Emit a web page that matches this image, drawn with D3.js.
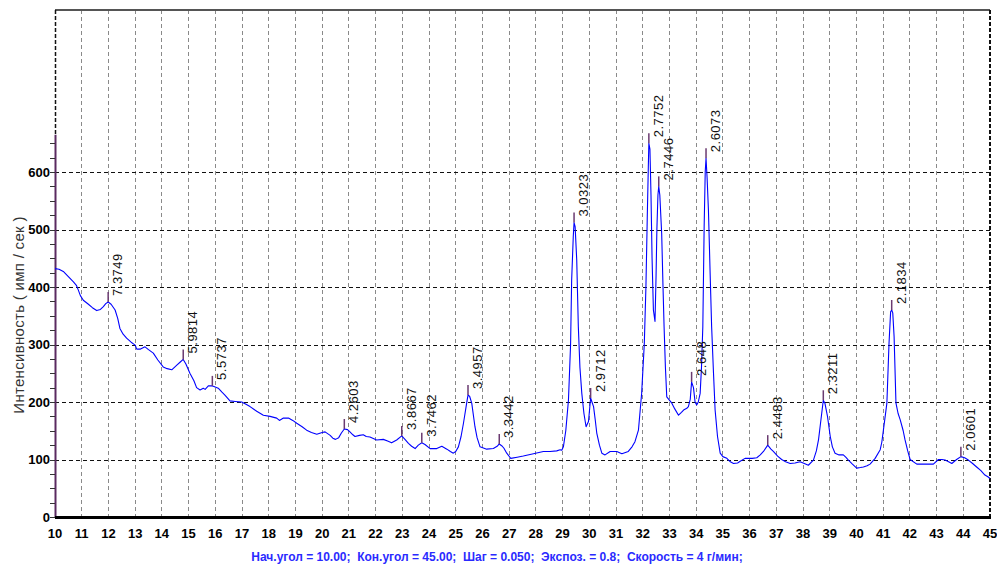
<!DOCTYPE html>
<html><head><meta charset="utf-8">
<script src="https://cdn.jsdelivr.net/npm/d3@7"></script>
<style>
html,body{margin:0;padding:0;background:#fff;}
svg{display:block;font-family:Arial,"Liberation Sans",sans-serif;}
</style></head>
<body><svg id="chart" width="997" height="565"></svg>
<script>
// 2θ (degrees) of the measured profile
const twoTheta = [10.00,10.15,10.31,10.50,10.69,10.80,10.87,10.95,11.06,11.25,11.40,11.56,11.70,11.81,11.90,11.99,12.10,12.25,12.35,12.43,12.55,12.68,12.85,13.00,13.06,13.20,13.37,13.50,13.68,13.85,14.05,14.20,14.37,14.56,14.70,14.80,14.90,15.05,15.20,15.30,15.43,15.55,15.62,15.74,15.89,15.95,16.11,16.25,16.36,16.55,16.75,16.99,17.15,17.30,17.55,17.80,18.05,18.30,18.40,18.55,18.74,18.90,19.05,19.25,19.42,19.60,19.80,20.00,20.11,20.30,20.40,20.50,20.62,20.72,20.83,20.95,21.04,21.15,21.23,21.40,21.54,21.65,21.79,22.04,22.29,22.45,22.60,22.79,22.98,23.10,23.23,23.35,23.48,23.60,23.73,23.85,24.04,24.29,24.48,24.67,24.80,24.91,25.00,25.10,25.20,25.29,25.41,25.46,25.52,25.60,25.72,25.80,25.91,26.16,26.41,26.55,26.63,26.72,26.80,26.91,27.06,27.30,27.53,27.91,28.28,28.53,28.78,28.91,28.97,29.03,29.12,29.22,29.30,29.34,29.40,29.43,29.47,29.53,29.59,29.65,29.72,29.80,29.88,29.97,30.05,30.10,30.16,30.22,30.28,30.38,30.47,30.59,30.78,31.03,31.22,31.46,31.60,31.71,31.84,31.96,32.06,32.12,32.17,32.21,32.23,32.27,32.31,32.35,32.40,32.46,32.50,32.53,32.57,32.60,32.64,32.71,32.76,32.80,32.85,32.90,33.09,33.20,33.34,33.45,33.53,33.65,33.71,33.78,33.83,33.90,33.96,34.02,34.08,34.15,34.20,34.25,34.30,34.34,34.37,34.41,34.46,34.52,34.58,34.65,34.71,34.80,34.90,35.00,35.15,35.28,35.40,35.55,35.65,35.83,35.95,36.10,36.27,36.40,36.52,36.68,36.80,36.89,37.05,37.20,37.35,37.52,37.70,37.89,38.05,38.20,38.39,38.50,38.58,38.70,38.76,38.82,38.92,39.02,39.10,39.20,39.35,39.51,39.60,39.70,39.85,40.01,40.15,40.26,40.40,40.51,40.70,40.89,40.95,41.01,41.14,41.22,41.28,41.32,41.36,41.41,41.48,41.56,41.64,41.75,41.82,41.92,42.01,42.26,42.60,42.88,43.07,43.20,43.32,43.45,43.57,43.75,43.91,44.05,44.19,44.35,44.50,44.65,44.81,44.92,45.00];
// intensity (imp/s)
const intensity = [432,431,427,418,409,403,395,385,377,370,364,359,361,366,371,374,370,360,345,328,318,311,304,299,292,292,296,291,285,273,261,258,256,264,270,274,266,250,237,225,221,224,222,228,228,227,224,217,212,202,201,200,196,192,184,177,175,172,168,172,172,168,163,157,151,147,144,147,148,142,137,135,138,146,153,152,148,143,140,142,143,140,139,134,135,132,129,134,141,135,128,123,119,125,129,126,119,119,123,118,114,111,114,122,140,163,198,212,210,198,157,138,122,118,119,123,127,124,120,111,102,104,106,110,114,114,115,117,116,122,150,203,300,412,487,512,505,447,331,260,215,180,157,166,207,200,192,170,146,125,111,108,114,114,110,114,122,131,151,215,302,400,520,609,650,640,560,450,360,340,420,499,560,575,560,493,400,331,260,209,198,188,177,182,186,189,192,205,235,225,200,195,200,215,260,331,505,600,624,590,534,430,331,250,186,140,111,105,102,96,93,94,97,102,102,102,103,108,114,125,118,114,106,100,96,93,94,96,93,90,99,115,134,180,203,198,174,140,122,111,108,108,104,99,92,85,86,87,89,92,102,117,130,151,198,302,357,360,355,314,198,180,169,150,134,115,100,92,92,92,100,100,99,96,93,100,105,103,99,93,87,81,73,70,67];
// marked peaks: position, intensity at the peak, d-spacing label
const peakTheta = [11.99,14.80,15.89,20.83,22.98,23.73,25.46,26.63,29.43,30.05,32.23,32.60,33.83,34.37,36.68,38.76,41.32,43.91];
const peakInt   = [374,274,228,153,141,129,212,127,512,207,650,575,235,624,125,203,360,105];
const peakLabel = ["7.3749","5.9814","5.5737","4.2603","3.8667","3.7462","3.4957","3.3442","3.0323","2.9712","2.7752","2.7446","2.648","2.6073","2.4483","2.3211","2.1834","2.0601"];
const xTicks = d3.range(10, 46, 1);
const yTicks = [0,100,200,300,400,500,600];
const yMinorTicks = d3.range(0, 651, 25);
const yAxisTop = 665;
const yTitle = "Интенсивность ( имп / сек )";
const caption = "Нач.угол = 10.00;  Кон.угол = 45.00;  Шаг = 0.050;  Экспоз. = 0.8;  Скорость = 4 г/мин;";

const svg = d3.select("#chart");
const L = 55, R = 990, T = 10, B = 517;
const x = d3.scaleLinear().domain([10,45]).range([L,R]);
const y = d3.scaleLinear().domain([0,600]).range([B,172]);

// vertical grid (gray dashed)
svg.append("g").selectAll("line").data(xTicks.filter(d=>d>10 && d<45)).join("line")
  .attr("x1",d=>x(d)).attr("x2",d=>x(d)).attr("y1",T).attr("y2",B)
  .attr("stroke","#8a8a8a").attr("stroke-width",1).attr("stroke-dasharray","4,3")
  .attr("shape-rendering","crispEdges");
// horizontal grid (black dashed)
svg.append("g").selectAll("line").data(yTicks.filter(d=>d>0)).join("line")
  .attr("x1",L).attr("x2",R).attr("y1",d=>Math.round(y(d))+0.5).attr("y2",d=>Math.round(y(d))+0.5)
  .attr("stroke","#111").attr("stroke-width",1).attr("stroke-dasharray","4,3");

// frame
svg.append("line").attr("x1",L).attr("x2",R).attr("y1",T).attr("y2",T)
  .attr("stroke","#555").attr("stroke-width",2);
svg.append("line").attr("x1",R).attr("x2",R).attr("y1",T).attr("y2",B)
  .attr("stroke","#111").attr("stroke-width",2).attr("stroke-dasharray","4,2");
svg.append("line").attr("x1",L+0.5).attr("x2",L+0.5).attr("y1",T).attr("y2",y(yAxisTop))
  .attr("stroke","#111").attr("stroke-width",1.5).attr("stroke-dasharray","4,2");

// y axis (purple) with minor ticks
svg.append("line").attr("x1",L+0.5).attr("x2",L+0.5).attr("y1",y(yAxisTop)).attr("y2",B)
  .attr("stroke","#5a2a60").attr("stroke-width",2);
svg.append("g").selectAll("line").data(yMinorTicks).join("line")
  .attr("x1",L-5).attr("x2",L).attr("y1",d=>Math.round(y(d))+0.5).attr("y2",d=>Math.round(y(d))+0.5)
  .attr("stroke","#333").attr("stroke-width",1);
svg.append("g").selectAll("text").data(yTicks).join("text")
  .attr("x",L-5).attr("y",d=>y(d)).attr("dy","0.35em").attr("text-anchor","end")
  .attr("font-size",13).attr("font-weight","bold").attr("fill","#000").text(d=>d);

// x axis
svg.append("line").attr("x1",L).attr("x2",R+1).attr("y1",B+0.5).attr("y2",B+0.5)
  .attr("stroke","#000").attr("stroke-width",3);
svg.append("g").selectAll("text").data(xTicks).join("text")
  .attr("x",d=>x(d)).attr("y",538).attr("text-anchor","middle")
  .attr("font-size",13).attr("font-weight","bold").attr("fill","#000").text(d=>d);

// profile
const line = d3.line().x((d,i)=>x(twoTheta[i])).y(d=>y(d));
svg.append("path").attr("d",line(intensity)).attr("fill","none")
  .attr("stroke","#0000ff").attr("stroke-width",1.1).attr("stroke-linejoin","round");

// peak markers
const pk = svg.append("g");
peakTheta.forEach((t,i)=>{
  const px = x(t), py = y(peakInt[i]);
  pk.append("line").attr("x1",px).attr("x2",px).attr("y1",py).attr("y2",py-10)
    .attr("stroke","#6a3a70").attr("stroke-width",1.5);
  pk.append("text").attr("transform",`translate(${px+14},${py-6}) rotate(-90)`)
    .attr("font-size",13).attr("letter-spacing","0.5px").attr("fill","#111").text(peakLabel[i]);
});

// titles
svg.append("text").attr("transform",`translate(24,315) rotate(-90)`).attr("text-anchor","middle")
  .attr("font-size",15).attr("letter-spacing","0.3px").attr("fill","#333").text(yTitle);
svg.append("text").attr("x",497).attr("y",561).attr("text-anchor","middle")
  .attr("font-size",12).attr("font-weight","bold").attr("fill","#2a2aff")
  .attr("xml:space","preserve").style("white-space","pre").text(caption);
</script></body></html>
